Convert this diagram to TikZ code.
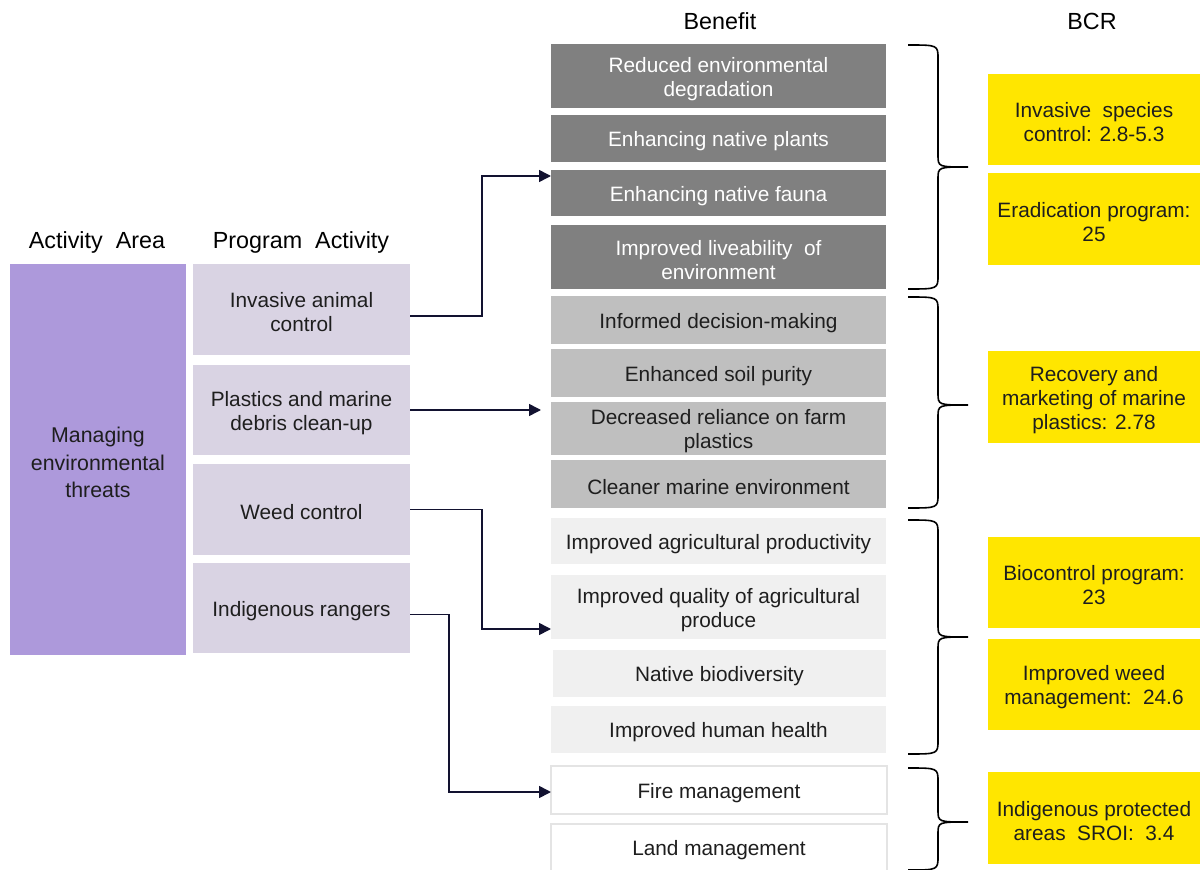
\documentclass[tikz,border=0pt]{standalone}
\usepackage{fontspec}
\setmainfont{Liberation Sans}
\usetikzlibrary{arrows.meta}
\definecolor{areafill}{RGB}{173,153,219}
\definecolor{progfill}{RGB}{217,211,227}
\definecolor{darkfill}{RGB}{128,128,128}
\definecolor{midfill}{RGB}{191,191,191}
\definecolor{lightfill}{RGB}{240,240,240}
\definecolor{whiteline}{RGB}{228,228,228}
\definecolor{bcrfill}{RGB}{255,230,0}
\definecolor{txt}{RGB}{30,30,30}
\definecolor{navy}{RGB}{18,18,48}
\newcommand{\bx}[7]{\node[#2, minimum width={(#5-#3)*0.75pt}, minimum height={(#6-#4)*0.75pt}] (#1) at ({(#3+#5)/2},{(#4+#6)/2}) {};
  \node[#2, fill=none, draw=none] (#1t) at ([yshift=-2.2pt]#1.center) {#7};}
\newcommand{\brc}[3]{\draw[bracestyle] (908,#1) .. controls (938,#1) .. (938,#1+14) -- (938,#3-12) .. controls (938,#3) .. (968,#3) .. controls (938,#3) .. (938,#3+12) -- (938,#2-14) .. controls (938,#2) .. (908,#2);}
\tikzset{
  base/.style={inner sep=0pt, outer sep=0pt, align=center, text=txt, font=\fontsize{15.6}{18}\selectfont},
  area/.style={base, fill=areafill, font=\fontsize{16}{20.3}\selectfont},
  prog/.style={base, fill=progfill},
  dark/.style={base, fill=darkfill, text=white},
  mid/.style={base, fill=midfill},
  light/.style={base, fill=lightfill},
  plain/.style={base, fill=white, draw=whiteline, line width=0.8pt},
  bcr/.style={base, fill=bcrfill},
  header/.style={inner sep=0pt, text=black, font=\fontsize{17.5}{20}\selectfont},
  arr/.style={draw=navy, line width=1.2pt, -{Triangle[length=9pt,width=9pt]}},
  bracestyle/.style={draw=black, line width=1.2pt}
}
\begin{document}
\begin{tikzpicture}[x=0.75pt, y=-0.75pt]
\useasboundingbox (0,0) rectangle (1200,870);
% headers
\node[header] (hA) at (97,242) {Activity\ \ Area};
\node[header] (hP) at (301,242) {Program\ \ Activity};
\node[header] (hB) at (720,21) {Benefit};
\node[header] (hC) at (1092,21) {BCR};
% activity area
\bx{area}{area}{10}{264}{186}{655}{Managing\\environmental\\threats}
% program activities
\bx{ia}{prog}{193}{264}{410}{355}{Invasive animal\\control}
\bx{pl}{prog}{193}{365}{410}{455}{Plastics and marine\\debris clean-up}
\bx{wc}{prog}{193}{464}{410}{555}{Weed control}
\bx{ir}{prog}{193}{563}{410}{653}{Indigenous rangers}
% benefits
\bx{red}{dark}{551}{44}{886}{108}{Reduced environmental\\degradation}
\bx{plants}{dark}{551}{115}{886}{162}{Enhancing native plants}
\bx{fauna}{dark}{551}{170}{886}{216}{Enhancing native fauna}
\bx{live}{dark}{551}{225}{886}{289}{Improved liveability\ \ of\\environment}
\bx{inf}{mid}{551}{296}{886}{344}{Informed decision-making}
\bx{soil}{mid}{551}{349}{886}{397}{Enhanced soil purity}
\bx{decr}{mid}{551}{402}{886}{455}{Decreased reliance on farm\\plastics}
\bx{clean}{mid}{551}{460}{886}{508}{Cleaner marine environment}
\bx{agri}{light}{551}{518}{886}{564}{Improved agricultural productivity}
\bx{qual}{light}{551}{575}{886}{639}{Improved quality of agricultural\\produce}
\bx{bio}{light}{553}{650}{886}{697}{Native biodiversity}
\bx{health}{light}{551}{706}{886}{753}{Improved human health}
\bx{fire}{plain}{551}{766}{887}{814}{Fire management}
\bx{land}{plain}{551}{824}{887}{871}{Land management}
% BCR
\bx{b1}{bcr}{988}{74}{1200}{165}{Invasive\ \ species\\control: 2.8-5.3}
\bx{b2}{bcr}{988}{173}{1200}{265}{Eradication program:\\25}
\bx{b3}{bcr}{988}{351}{1200}{443}{Recovery and\\marketing of marine\\plastics: 2.78}
\bx{b4}{bcr}{988}{537}{1200}{628}{Biocontrol program:\\23}
\bx{b5}{bcr}{988}{639}{1200}{730}{Improved weed\\management:\ \ 24.6}
\bx{b6}{bcr}{988}{772}{1200}{864}{Indigenous protected\\areas\ \ SROI:\ \ 3.4}
% connectors
\draw[arr] ([yshift=-5pt]ia.east) -- ++(72,0) |- ([yshift=-4.5pt]fauna.north west);
\draw[arr, shorten >=7.5pt] (pl.east) -- (pl.east -| decr.west);
\draw[arr] (wc.east) -- ++(72,0) |- ([yshift=7.5pt]qual.south west);
\draw[arr] ([yshift=-5pt]ir.east) -- ++(39,0) |- ([yshift=-1.5pt]fire.west);
% braces
\brc{45}{289}{167}
\brc{297}{508}{405}
\brc{520}{754}{637}
\brc{768}{870}{822}
\end{tikzpicture}
\end{document}
